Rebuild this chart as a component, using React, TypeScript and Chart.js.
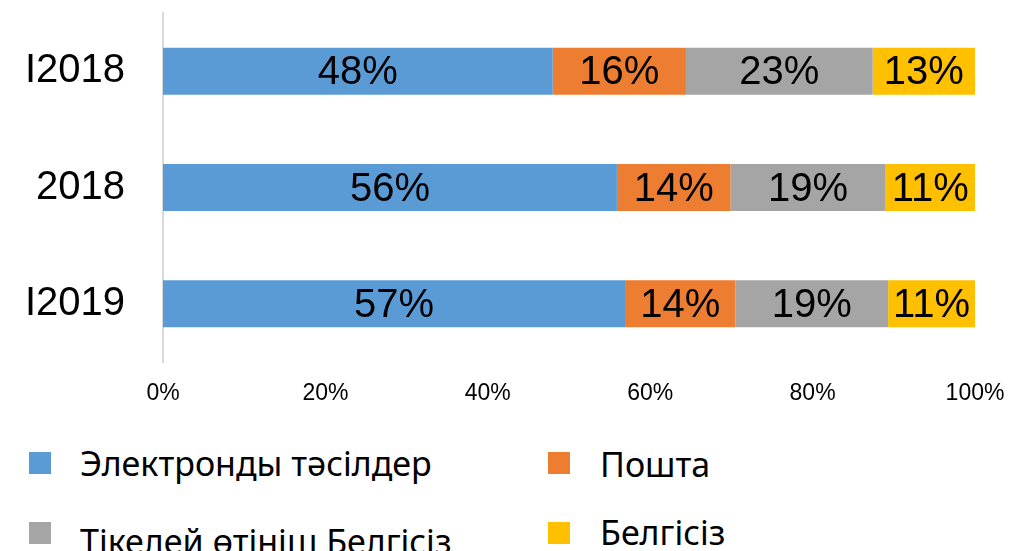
import React, { useEffect, useRef } from "react";
import { Chart, registerables } from "chart.js";

Chart.register(...registerables);

const categories = ["I2018", "2018", "I2019"];
const electronic = [48.0, 55.9, 56.9];
const post = [16.4, 14.0, 13.6];
const direct = [23.0, 19.1, 18.8];
const unknown = [12.6, 11.0, 10.7];
const xTicks = [0, 20, 40, 60, 80, 100];

const seriesNames = ["Электронды тәсілдер", "Пошта", "Тікелей өтініш Белгісіз", "Белгісіз"];
const seriesColors = ["#5B9BD5", "#ED7D31", "#A5A5A5", "#FFC000"];

const labelPlugin = {
  id: "segLabels",
  afterDatasetsDraw(chart: any) {
    const ctx = chart.ctx;
    ctx.save();
    ctx.font = "40px 'Liberation Sans', Arial, sans-serif";
    ctx.fillStyle = "#000";
    ctx.textAlign = "center";
    ctx.textBaseline = "middle";
    chart.data.datasets.forEach((ds: any, i: number) => {
      const meta = chart.getDatasetMeta(i);
      meta.data.forEach((el: any, j: number) => {
        const v = ds.data[j];
        const cx = (el.base + el.x) / 2;
        ctx.fillText(Math.round(v) + "%", cx, el.y + 2);
      });
    });
    ctx.restore();
  },
};

function ChartCanvas() {
  const ref = useRef<HTMLCanvasElement>(null);
  useEffect(() => {
    if (!ref.current) return;
    const data = [electronic, post, direct, unknown];
    const chart = new Chart(ref.current, {
      type: "bar",
      data: {
        labels: categories,
        datasets: data.map((d, i) => ({
          label: seriesNames[i],
          data: d,
          backgroundColor: seriesColors[i],
          borderWidth: 0,
          categoryPercentage: 1,
          barPercentage: 0.404,
        })),
      },
      options: {
        indexAxis: "y",
        animation: false,
        responsive: false,
        maintainAspectRatio: false,
        layout: { padding: { top: 13, right: 36, bottom: 18, left: 0 } },
        plugins: { legend: { display: false }, tooltip: { enabled: false } },
        scales: {
          x: {
            stacked: true,
            min: 0,
            max: 100,
            afterBuildTicks(scale: any) {
              scale.ticks = xTicks.map((v) => ({ value: v }));
            },
            afterFit(scale: any) {
              scale.height = 50;
              scale.paddingLeft = 0;
              scale.paddingRight = 0;
            },
            grid: { display: false, drawTicks: false },
            border: { display: false },
            ticks: {
              padding: 18,
              color: "#000",
              font: { family: "'Liberation Sans', Arial, sans-serif", size: 23 },
              callback: (v: any) => v + "%",
              maxRotation: 0,
            },
          },
          y: {
            stacked: true,
            afterFit(scale: any) {
              scale.width = 163;
              scale.paddingTop = 0;
              scale.paddingBottom = 0;
            },
            grid: { display: false, drawTicks: false },
            border: { display: true, color: "#D9D9D9", width: 2 },
            ticks: {
              padding: 38,
              color: "#000",
              font: { family: "'Liberation Sans', Arial, sans-serif", size: 40 },
            },
          },
        },
      },
      plugins: [labelPlugin],
    });
    return () => chart.destroy();
  }, []);
  return <canvas ref={ref} width={1011} height={430} style={{ position: "absolute", left: 0, top: 0 }} />;
}

const legendPos = [
  { x: 29, y: 452, tx: 80, ty: 463 },
  { x: 548, y: 452, tx: 600, ty: 464 },
  { x: 29, y: 522, tx: 80, ty: 541 },
  { x: 548, y: 522, tx: 600, ty: 532 },
];

export default function App() {
  return (
    <div style={{ position: "fixed", left: 0, top: 0, width: 1011, height: 551, background: "#fff", overflow: "hidden" }}>
      <ChartCanvas />
      {seriesNames.map((n, i) => (
        <React.Fragment key={n}>
          <div
            style={{
              position: "absolute",
              left: legendPos[i].x,
              top: legendPos[i].y,
              width: 22,
              height: 22,
              background: seriesColors[i],
            }}
          />
          <div
            style={{
              position: "absolute",
              left: legendPos[i].tx,
              top: legendPos[i].ty,
              transform: "translateY(-50%)",
              fontFamily: "'Noto Sans', 'Open Sans', sans-serif",
              fontSize: 34,
              lineHeight: 1,
              color: "#000",
              whiteSpace: "nowrap",
            }}
          >
            {n}
          </div>
        </React.Fragment>
      ))}
    </div>
  );
}
